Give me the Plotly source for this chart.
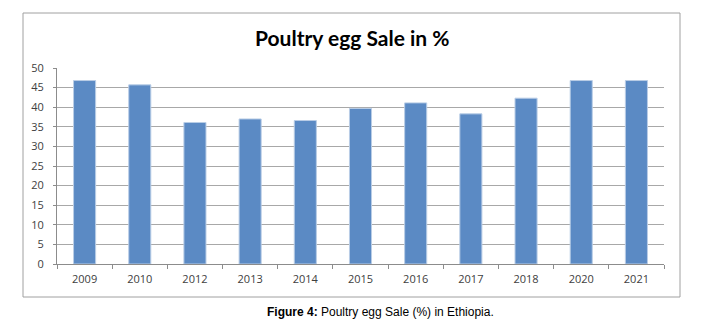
import plotly.graph_objects as go

years = ["2009", "2010", "2012", "2013", "2014", "2015", "2016", "2017", "2018", "2020", "2021"]
sale_pct = [46.8, 45.7, 36.1, 37.0, 36.6, 39.7, 41.1, 38.3, 42.3, 46.8, 46.8]
y_ticks = [0, 5, 10, 15, 20, 25, 30, 35, 40, 45, 50]

OFF = 8  # page offset of the figure
W, H = 707 - OFF, 330 - OFF
L, R, T, B = 57 - OFF, 43, 68 - OFF, 66
pw, ph = W - L - R, H - T - B

def px_x(x):
    return (x - OFF - L) / pw

def px_y(y):
    return (H - B - (y - OFF)) / ph

fig = go.Figure(go.Bar(
    x=years, y=sale_pct,
    marker=dict(color="#5B8AC4", line=dict(color="#B9CDE6", width=1)),
    width=0.4,
))

fig.update_layout(
    width=W, height=H,
    margin=dict(l=L, r=R, t=T, b=B),
    paper_bgcolor="white", plot_bgcolor="white",
    showlegend=False,
    font=dict(family="Open Sans, sans-serif", color="#404040", size=11),
    shapes=[dict(type="rect", xref="paper", yref="paper",
                 x0=px_x(23), x1=px_x(680), y0=px_y(297), y1=px_y(13),
                 line=dict(color="#A0A0A0", width=1), fillcolor="rgba(0,0,0,0)", layer="below")],
    annotations=[
        dict(text="<b>Poultry egg Sale in %</b>", xref="paper", yref="paper",
             x=px_x(352), y=px_y(37), xanchor="center", yanchor="middle", showarrow=False,
             font=dict(family="Lato, sans-serif", size=21, color="#000000")),
        dict(text="<b>Figure 4:</b> Poultry egg Sale (%) in Ethiopia.", xref="paper", yref="paper",
             x=px_x(380), y=px_y(312), xanchor="center", yanchor="middle", showarrow=False,
             font=dict(family="Liberation Sans, Arial, sans-serif", size=12, color="#000000")),
    ],
)

fig.update_xaxes(
    type="category", tickson="boundaries", ticks="outside", ticklen=4, tickcolor="#8C8C8C",
    showline=True, linecolor="#8C8C8C", linewidth=1, showgrid=False,
    ticklabelstandoff=5,
    tickfont=dict(size=11, color="#404040"),
)
fig.update_yaxes(
    range=[0, 50], tickvals=y_ticks, ticks="outside", ticklen=3, tickcolor="#8C8C8C",
    showline=True, linecolor="#8C8C8C", linewidth=1,
    showgrid=True, gridcolor="#A8A8A8", gridwidth=1, zeroline=False,
    ticklabelstandoff=7,
    tickfont=dict(size=11, color="#404040"),
)

fig.write_html("out.html")
